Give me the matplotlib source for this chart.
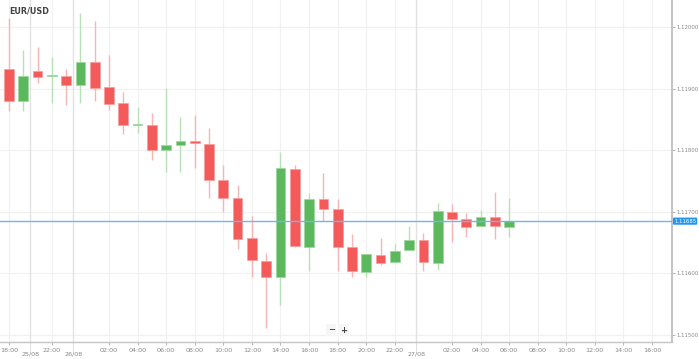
import numpy as np
import matplotlib.pyplot as plt

# hourly EUR/USD candles (open, high, low, close)
opens = [1.11933, 1.11881, 1.11929, 1.11921, 1.11921, 1.11906, 1.11943, 1.11903,
         1.11877, 1.11841, 1.11842, 1.11800, 1.11808, 1.11816, 1.11810, 1.11752,
         1.11723, 1.11657, 1.11621, 1.11594, 1.11769, 1.11643, 1.11721, 1.11704,
         1.11643, 1.11603, 1.11630, 1.11618, 1.11638, 1.11654, 1.11617, 1.11700,
         1.11689, 1.11677, 1.11691, 1.11675]
highs = [1.12015, 1.11963, 1.11968, 1.11952, 1.11932, 1.12024, 1.12011, 1.11955,
         1.11895, 1.11870, 1.11860, 1.11901, 1.11855, 1.11857, 1.11836, 1.11776,
         1.11743, 1.11693, 1.11634, 1.11797, 1.11776, 1.11730, 1.11763, 1.11721,
         1.11664, 1.11632, 1.11657, 1.11648, 1.11677, 1.11665, 1.11715, 1.11713,
         1.11699, 1.11703, 1.11733, 1.11723]
lows = [1.11864, 1.11864, 1.11910, 1.11877, 1.11873, 1.11877, 1.11880, 1.11866,
        1.11826, 1.11829, 1.11784, 1.11765, 1.11765, 1.11771, 1.11723, 1.11700,
        1.11639, 1.11594, 1.11511, 1.11548, 1.11643, 1.11604, 1.11686, 1.11604,
        1.11595, 1.11594, 1.11613, 1.11617, 1.11637, 1.11604, 1.11606, 1.11651,
        1.11660, 1.11677, 1.11656, 1.11660]
closes = [1.11881, 1.11921, 1.11919, 1.11923, 1.11906, 1.11943, 1.11902, 1.11875,
          1.11842, 1.11843, 1.11800, 1.11808, 1.11816, 1.11812, 1.11752, 1.11723,
          1.11656, 1.11622, 1.11594, 1.11771, 1.11644, 1.11721, 1.11705, 1.11643,
          1.11604, 1.11632, 1.11617, 1.11636, 1.11654, 1.11618, 1.11702, 1.11688,
          1.11675, 1.11691, 1.11677, 1.11685]

last_price = 1.11685

# x axis labels (candle index -> label)
time_pos = [0, 3, 7, 9, 11, 13, 15, 17, 19, 21, 23, 25, 27, 31, 33, 35, 37, 39, 41, 43, 45]
time_labels = ["18:00", "22:00", "02:00", "04:00", "06:00", "08:00", "10:00", "12:00",
               "14:00", "16:00", "18:00", "20:00", "22:00", "02:00", "04:00", "06:00",
               "08:00", "10:00", "12:00", "14:00", "16:00"]
date_pos = [1.5, 4.5, 28.5]
date_labels = ["25/08", "26/08", "27/08"]

y_ticks = [1.11500, 1.11600, 1.11700, 1.11800, 1.11900, 1.12000]

# colours
up_body, up_wick = "#5cb85c", "#b9e0b9"
dn_body, dn_wick = "#f55a5a", "#f9b5b5"

fig = plt.figure(figsize=(6.99, 3.59), dpi=100)
ax = fig.add_axes([0.0, 0.0474, 0.9614, 0.9526])

o = np.array(opens)
h = np.array(highs)
l = np.array(lows)
c = np.array(closes)
x = np.arange(len(o))
up = c >= o

# wicks
ax.vlines(x[up], l[up], h[up], color=up_wick, linewidth=1.0, zorder=2)
ax.vlines(x[~up], l[~up], h[~up], color=dn_wick, linewidth=1.0, zorder=2)

# bodies
bottom = np.minimum(o, c)
height = np.maximum(np.abs(c - o), 0.000015)
ax.bar(x[up], height[up], bottom=bottom[up], width=0.68, color=up_body,
       edgecolor="#9fd89f", linewidth=0.6, zorder=3)
ax.bar(x[~up], height[~up], bottom=bottom[~up], width=0.68, color=dn_body,
       edgecolor="#f9a0a0", linewidth=0.6, zorder=3)

# last price line
ax.axhline(last_price, color="#6cb6f2", linewidth=1.0, zorder=4)

# limits
ax.set_xlim(-0.63, 46.4)
ax.set_ylim(1.114886, 1.120444)

# grid
for yt in y_ticks:
    ax.axhline(yt, color="#f1f1f1", linewidth=0.9, zorder=0)
for xt in time_pos:
    ax.axvline(xt, color="#f1f1f1", linewidth=0.9, zorder=0)
for xt in date_pos:
    ax.axvline(xt, color="#e2e2e2", linewidth=1.0, zorder=0)

# spines
for s in ["left", "top"]:
    ax.spines[s].set_visible(False)
ax.spines["right"].set_color("#c4c4c4")
ax.spines["right"].set_linewidth(1.5)
ax.spines["bottom"].set_color("#c4c4c4")
ax.spines["bottom"].set_linewidth(1.0)

# y ticks on right
ax.yaxis.tick_right()
ax.set_yticks(y_ticks)
ax.set_yticklabels(["%.5f" % v for v in y_ticks])
ax.tick_params(axis="y", length=2, width=0.6, color="#aaaaaa", labelsize=3.9,
               labelcolor="#888888", pad=1)

# x ticks
ax.set_xticks(time_pos)
ax.set_xticklabels(time_labels)
ax.tick_params(axis="x", length=2, width=0.6, color="#aaaaaa", labelsize=4.6,
               labelcolor="#888888", pad=2)
for xp, lab in zip(date_pos, date_labels):
    ax.text(xp, -0.028, lab, transform=ax.get_xaxis_transform(), ha="center",
            va="top", fontsize=4.6, color="#888888", clip_on=False)
    ax.plot([xp, xp], [0, -0.027], transform=ax.get_xaxis_transform(),
            color="#bbbbbb", linewidth=0.7, linestyle=(0, (1, 1)), clip_on=False)

# price label box
ax.text(1.003, last_price, "%.5f" % last_price, transform=ax.get_yaxis_transform(),
        ha="left", va="center", fontsize=3.9, color="white", clip_on=False,
        bbox=dict(boxstyle="round,pad=0.2,rounding_size=0.2", fc="#2196f3", ec="none"))

# title
ax.text(0.014, 0.968, "EUR/USD", transform=ax.transAxes, ha="left", va="center",
        fontsize=5.8, fontweight="bold", color="#444444")

# zoom buttons
ax.text(0.493, 0.035, "\u2212", transform=ax.transAxes, ha="center", va="center",
        fontsize=6, fontweight="bold", color="#444444",
        bbox=dict(boxstyle="square,pad=0.2", fc="#f6f6f6", ec="none"))
ax.text(0.511, 0.035, "+", transform=ax.transAxes, ha="center", va="center",
        fontsize=6, fontweight="bold", color="#444444",
        bbox=dict(boxstyle="square,pad=0.2", fc="#f6f6f6", ec="none"))

fig.savefig("out.png", dpi=100)
